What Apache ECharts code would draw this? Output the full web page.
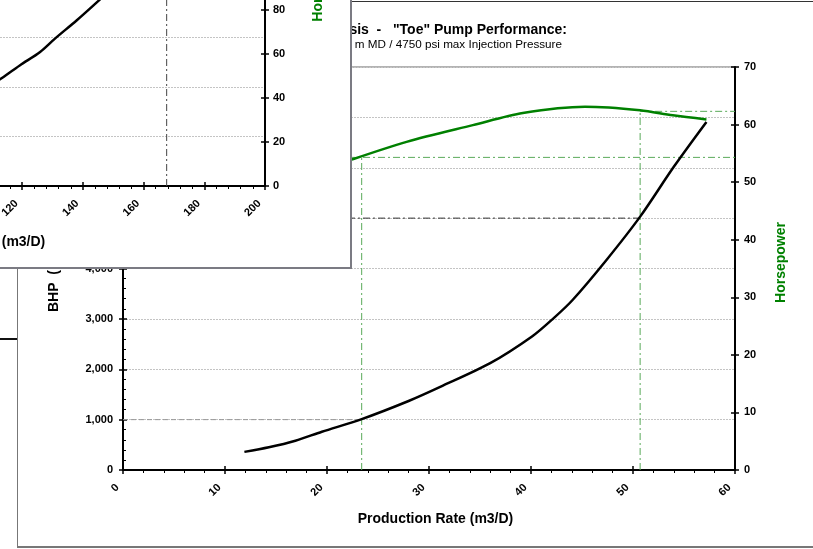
<!DOCTYPE html>
<html><head><meta charset="utf-8">
<script src="https://cdn.jsdelivr.net/npm/echarts@6/dist/echarts.min.js"></script>
<style>
html,body{margin:0;padding:0;width:813px;height:549px;overflow:hidden;background:#fff;}
#frame{position:absolute;left:17px;top:1px;width:820px;height:547px;box-sizing:border-box;border-left:1px solid #777;border-top:1px solid #333;border-bottom:2px solid #777;}
#main{position:absolute;left:0;top:0;width:813px;height:549px;}
#stub{position:absolute;left:0;top:338px;width:17px;height:2px;background:#111;}
#panel{position:absolute;left:-460px;top:-290px;width:812px;height:559px;box-sizing:border-box;border:2px solid #7b7b83;background:#fff;z-index:2;}
#panelChart{width:100%;height:100%;}
</style></head>
<body>
<div id="frame"></div>
<div id="main"></div>
<div id="stub"></div>
<div id="panel"><div id="panelChart"></div></div>
<script>
// ---------- Main chart: "Toe" pump performance ----------
const toeRate = [11.9, 14.3, 16.9, 19.5, 23.4, 28.0, 31.1, 36.0, 40.1, 42.2, 44.1, 47.4, 50.7, 54.0, 57.2];
const toeBhp  = [360, 450, 580, 760, 1010, 1370, 1650, 2120, 2650, 3010, 3380, 4170, 5030, 6020, 6910];
const toeHpRate = [12, 17, 22.4, 27.8, 34.3, 39.2, 45.3, 50.7, 53.9, 57.2];
const toeHp     = [46, 50.5, 53.9, 57.0, 59.9, 62.0, 63.1, 62.5, 61.6, 60.9];
const opRate = [23.4, 50.7];
const opBhp  = [1000, 5000];
const opHp   = [54.3, 62.3];
const toeRateTicks = [0, 10, 20, 30, 40, 50, 60];
const toeBhpTicks  = [0, 1000, 2000, 3000, 4000, 5000, 6000, 7000, 8000];
const toeHpTicks   = [0, 10, 20, 30, 40, 50, 60, 70];

// ---------- Overlapping panel (rear chart) ----------
const heelRate = [110, 112.7, 119.3, 125.9, 130.8, 138.0, 145.3, 148];
const heelBhp  = [2040, 2150, 2435, 2700, 2970, 3340, 3740, 3890];
const heelOpRate = [167.6];
const heelRateTicks = [0, 20, 40, 60, 80, 100, 120, 140, 160, 180, 200];
const heelBhpTicks  = [0, 1000, 2000, 3000, 4000, 5000, 6000, 7000, 8000];
const heelHpTicks   = [0, 20, 40, 60, 80, 100, 120, 140, 160, 180];

const FONT = '"Liberation Sans", Arial, sans-serif';
const GREEN = '#008000';
const REFGREEN = '#5aaa5a';
const DASHDOT = [7, 3, 2, 3];

function rng(arr){ return {min: arr[0], max: arr[arr.length-1], interval: arr[1]-arr[0]}; }
function zip(xs, ys){ return xs.map((x, i) => [x, ys[i]]); }
const lbl = {color:'#000', fontSize:11, fontWeight:'bold', fontFamily:FONT};

function xPair(ticks){
  const t = rng(ticks);
  return [
    Object.assign({type:'value', position:'bottom',
      axisLine:{show:true, onZero:false, lineStyle:{color:'#000', width:2}},
      axisTick:{show:true, inside:false, length:4, lineStyle:{color:'#000', width:1.5}},
      minorTick:{show:true, splitNumber:5, length:3, lineStyle:{color:'#000', width:1}},
      axisLabel:Object.assign({show:true, rotate:45, margin:10, padding:[0,8,0,0]}, lbl),
      splitLine:{show:false}, minorSplitLine:{show:false}}, t),
    Object.assign({type:'value', position:'bottom',
      axisLine:{show:false, onZero:false},
      axisTick:{show:true, inside:true, length:4, lineStyle:{color:'#000', width:1.5}},
      axisLabel:{show:false}, splitLine:{show:false}}, t)
  ];
}
function yMain(ticks, pos, margin, fmt, split){
  const t = rng(ticks);
  return Object.assign({type:'value', position:pos,
    axisLine:{show:true, onZero:false, lineStyle:{color:'#000', width:2}},
    axisTick:{show:true, inside:false, length:4, lineStyle:{color:'#000', width:1.5}},
    axisLabel:Object.assign({show:true, margin:margin, formatter:fmt}, lbl),
    splitLine:{show:split, lineStyle:{color:'#c4c4c4', width:1, type:[2,1]}}}, t);
}
function yDup(ticks, pos, minor){
  const t = rng(ticks);
  return Object.assign({type:'value', position:pos,
    axisLine:{show:false, onZero:false},
    axisTick:{show:true, inside:true, length:4, lineStyle:{color:'#000', width:1.5}},
    minorTick:{show:minor, splitNumber:5, length:3, lineStyle:{color:'#000', width:1}},
    axisLabel:{show:false}, splitLine:{show:false}}, t);
}
const thous = v => v.toLocaleString('en-US');
function refLine(data, yIdx, color, type, width){
  return {type:'line', data:data, xAxisIndex:0, yAxisIndex:yIdx, showSymbol:false, symbol:'none',
    lineStyle:{color:color, width:width||1, type:type}, silent:true, z:3};
}
function curve(name, data, yIdx, color){
  return {type:'line', name:name, data:data, xAxisIndex:0, yAxisIndex:yIdx,
    showSymbol:false, symbol:'none', smooth:0.3,
    lineStyle:{color:color, width:2.5}, z:5};
}

// ----- main chart -----
const xr = rng(toeRateTicks);
const mainChart = echarts.init(document.getElementById('main'), null, {renderer:'canvas'});
mainChart.setOption({
  animation:false,
  grid:{left:123, right:78, top:67, bottom:79, show:true, borderColor:'#666', borderWidth:1, backgroundColor:'transparent'},
  xAxis: xPair(toeRateTicks),
  yAxis: [
    yMain(toeBhpTicks, 'left', 10, thous, true),
    yDup(toeBhpTicks, 'left', true),
    yMain(toeHpTicks, 'right', 9, v => String(v), false),
    yDup(toeHpTicks, 'right', false)
  ],
  series: [
    refLine([[xr.min, opBhp[0]], [opRate[0], opBhp[0]]], 0, '#999', [5,3]),
    refLine([[xr.min, opBhp[1]], [opRate[1], opBhp[1]]], 0, '#333', DASHDOT),
    refLine([[opRate[0], 0], [opRate[0], opHp[0]]], 2, REFGREEN, DASHDOT),
    refLine([[opRate[1], 0], [opRate[1], opHp[1]]], 2, REFGREEN, DASHDOT),
    refLine([[xr.min, opHp[0]], [xr.max, opHp[0]]], 2, REFGREEN, DASHDOT),
    refLine([[opRate[1], opHp[1]], [xr.max, opHp[1]]], 2, REFGREEN, DASHDOT),
    curve('BHP', zip(toeRate, toeBhp), 0, '#000'),
    curve('Horsepower', zip(toeHpRate, toeHp), 2, GREEN)
  ],
  graphic: [
    {type:'text', x:567, y:30, style:{text:'ESP Design Analysis  -   "Toe" Pump Performance:', fill:'#000',
      font:'bold 14px ' + FONT, align:'right', textAlign:'right', verticalAlign:'middle', textVerticalAlign:'middle'}},
    {type:'text', x:562, y:44.5, style:{text:'Pump Set @ 2,000 m MD / 4750 psi max Injection Pressure', fill:'#000',
      font:'11.7px ' + FONT, align:'right', textAlign:'right', verticalAlign:'middle', textVerticalAlign:'middle'}},
    {type:'text', x:435.5, y:519, style:{text:'Production Rate (m3/D)', fill:'#000',
      font:'bold 14px ' + FONT, align:'center', textAlign:'center', verticalAlign:'middle', textVerticalAlign:'middle'}},
    {type:'text', x:781.5, y:262.5, rotation:Math.PI/2, style:{text:'Horsepower', fill:GREEN,
      font:'bold 14px ' + FONT, align:'center', textAlign:'center', verticalAlign:'middle', textVerticalAlign:'middle'}},
    {type:'text', x:54, y:312, rotation:Math.PI/2, style:{text:'BHP  (kPa)', fill:'#000',
      font:'bold 14px ' + FONT, align:'left', textAlign:'left', verticalAlign:'middle', textVerticalAlign:'middle'}}
  ]
});

// ----- overlapping panel chart -----
const pr = rng(heelBhpTicks);
const panelChart = echarts.init(document.getElementById('panelChart'), null, {renderer:'canvas'});
panelChart.setOption({
  animation:false,
  grid:{left:116, right:85, top:77, bottom:81, show:false},
  xAxis: xPair(heelRateTicks),
  yAxis: [
    yMain(heelBhpTicks, 'left', 10, thous, true),
    yMain(heelHpTicks, 'right', 8, v => String(v), false),
    yDup(heelHpTicks, 'right', false)
  ],
  series: [
    refLine([[heelOpRate[0], pr.min], [heelOpRate[0], pr.max]], 0, '#444', DASHDOT),
    curve('BHP', zip(heelRate, heelBhp), 0, '#000')
  ],
  graphic: [
    {type:'text', x:425.5, y:530, style:{text:'Production Rate (m3/D)', fill:'#000',
      font:'bold 14px ' + FONT, align:'center', textAlign:'center', verticalAlign:'middle', textVerticalAlign:'middle'}},
    {type:'text', x:776, y:309.7, rotation:Math.PI/2, style:{text:'Horsepower', fill:GREEN,
      font:'bold 14px ' + FONT, align:'left', textAlign:'left', verticalAlign:'middle', textVerticalAlign:'middle'}}
  ]
});
</script>
</body></html>
